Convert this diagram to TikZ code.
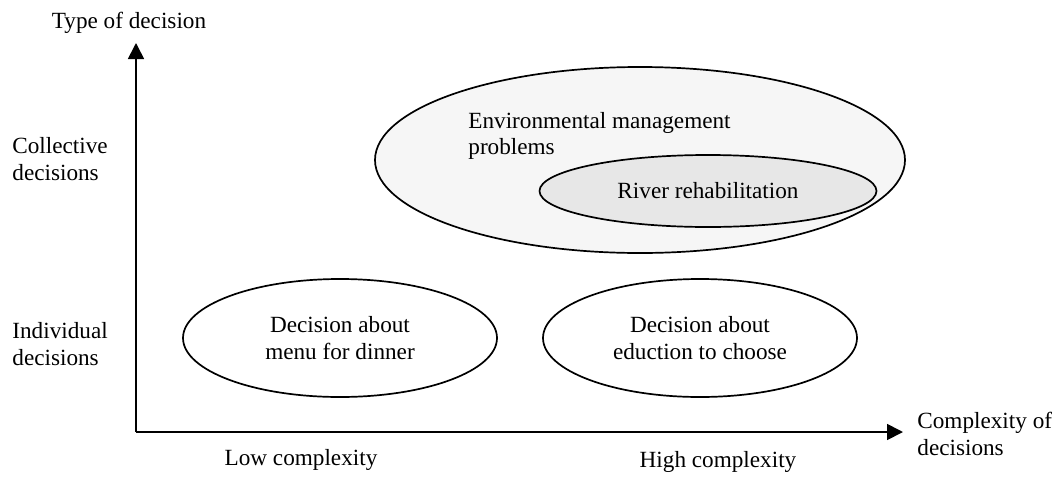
\documentclass[tikz,border=0pt]{standalone}
\usepackage{fontspec}
\setmainfont{Liberation Serif}
\usetikzlibrary{arrows.meta,shapes.geometric}
\begin{document}
\begin{tikzpicture}[x=0.5pt,y=-0.5pt,
  lbl/.style={font=\fontsize{11.6pt}{13.4pt}\selectfont, inner sep=0pt, align=left},
  ctr/.style={font=\fontsize{11.6pt}{13.4pt}\selectfont, inner sep=0pt, align=center},
  axis/.style={line width=0.85pt, -{Triangle[length=8pt,width=8pt]}},
  ell/.style={draw, line width=0.85pt, ellipse, inner sep=0pt}]
\useasboundingbox (0,0) rectangle (1060,477);
% ellipses
\node[ell, fill=gray!7, minimum width=265pt, minimum height=93pt] (env) at (640,160) {};
\node[ell, fill=gray!19, minimum width=168.5pt, minimum height=36pt] (river) at (708,191) {};
\node[ell, minimum width=157pt, minimum height=59pt] (menu) at (340,338) {};
\node[ell, minimum width=157pt, minimum height=59pt] (edu) at (700,338) {};
% texts in ellipses
\node[lbl, anchor=west] (envt) at (468,136) {Environmental management\\problems};
\node[ctr] (rivt) at (river.center) {River rehabilitation};
\node[ctr] (menut) at (menu.center) {Decision about\\menu for dinner};
\node[ctr] (edut) at (edu.center) {Decision about\\eduction to choose};
% axes
\coordinate (o) at (136,432);
\coordinate (ytip) at (136,43);
\coordinate (xtip) at (903,432);
\draw[axis] (o) -- (ytip);
\draw[axis] (o) -- (xtip);
% axis labels
\node[ctr] (ylab) at (129,23) {Type of decision};
\node[lbl, anchor=west] (coll) at (12,159) {Collective\\decisions};
\node[lbl, anchor=west] (indiv) at (12,344) {Individual\\decisions};
\node[lbl, anchor=west] (xlab) at (917,434) {Complexity of\\decisions};
\node[ctr] (low) at (301,460) {Low complexity};
\node[ctr] (high) at (718,462) {High complexity};
\end{tikzpicture}
\end{document}
